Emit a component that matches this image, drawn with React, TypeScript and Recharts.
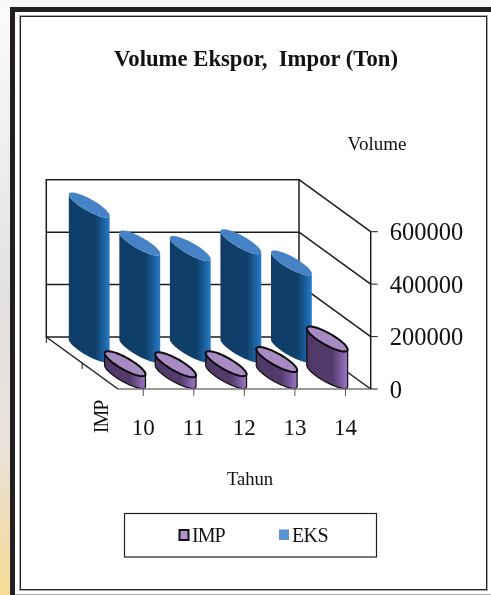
import { BarChart, Bar, XAxis, YAxis, usePlotArea } from 'recharts'

const YEARS = ['10', '11', '12', '13', '14']
const IMP_VALUES = [47000, 43000, 47000, 63000, 141000]
const EKS_VALUES = [553000, 408000, 387000, 413000, 332000]
const VOLUME_TICKS = [0, 200000, 400000, 600000]

const chartData = YEARS.map((year, i) => ({
  year,
  IMP: IMP_VALUES[i],
  EKS: EKS_VALUES[i],
}))

const FONT = '"Liberation Serif", serif'
const MAX_VOLUME = 600000

// how far the back wall sits behind the front plane, in px
const DEPTH_X = -71.7
const DEPTH_Y = -52
const DISC_V_X = -17.2
const DISC_V_Y = -12.5

const ellipsePoint = (cx: number, cy: number, ux: number, t: number) => [
  cx + Math.cos(t) * ux + Math.sin(t) * DISC_V_X,
  cy + Math.sin(t) * DISC_V_Y,
]

const toPath = (points: number[][]) =>
  points.map((p, i) => `${i ? 'L' : 'M'}${p[0].toFixed(2)} ${p[1].toFixed(2)}`).join(' ') + ' Z'

function cylinderShape(depth: number, gradient: string, top: string, stroke: string, strokeWidth: number) {
  return function Cylinder(props: any) {
    const { x, y, width, height } = props
    const ux = width / 2
    const cx = x + ux + depth * DEPTH_X
    const topY = y + depth * DEPTH_Y
    const floorY = y + height + depth * DEPTH_Y

    // tangent angle of the disc silhouette (right-most point)
    const t0 = Math.atan2(DISC_V_X, ux)
    const steps = 32
    const body: number[][] = []
    for (let i = 0; i <= steps; i++) {
      body.push(ellipsePoint(cx, topY, ux, t0 + Math.PI + (i / steps) * Math.PI))
    }
    for (let i = 0; i <= steps; i++) {
      body.push(ellipsePoint(cx, floorY, ux, t0 - (i / steps) * Math.PI))
    }
    const disc: number[][] = []
    for (let i = 0; i < steps * 2; i++) {
      disc.push(ellipsePoint(cx, topY, ux, (i / steps) * Math.PI))
    }

    return (
      <g>
        <path d={toPath(body)} fill={`url(#${gradient})`} stroke={stroke} strokeWidth={strokeWidth * 0.6} />
        <path d={toPath(disc)} fill={top} stroke={stroke} strokeWidth={strokeWidth} />
      </g>
    )
  }
}

function Walls() {
  const plot = usePlotArea()
  if (!plot) return null
  const { x, y, width, height } = plot
  const front = (v: number) => y + height * (1 - v / MAX_VOLUME)
  const right = x + width
  const wall = '#1c1c1c'

  return (
    <g>
      <defs>
        <linearGradient id="eksBody" x1="0" y1="0" x2="1" y2="0">
          <stop offset="0" stopColor="#0f3d68" />
          <stop offset="0.65" stopColor="#103f6b" />
          <stop offset="0.88" stopColor="#1d66a8" />
          <stop offset="1" stopColor="#2b7cc6" />
        </linearGradient>
        <linearGradient id="impBody" x1="0" y1="0" x2="1" y2="0">
          <stop offset="0" stopColor="#4f3867" />
          <stop offset="0.62" stopColor="#533b6c" />
          <stop offset="0.88" stopColor="#8763ab" />
          <stop offset="1" stopColor="#9d78c2" />
        </linearGradient>
      </defs>
      <rect x={x + DEPTH_X} y={front(MAX_VOLUME) + DEPTH_Y} width={width} height={height} fill="#fff" stroke={wall} strokeWidth={1.5} />
      {VOLUME_TICKS.map((v) => (
        <g key={v}>
          {v > 0 && v < MAX_VOLUME && (
            <line x1={x + DEPTH_X} x2={right + DEPTH_X} y1={front(v) + DEPTH_Y} y2={front(v) + DEPTH_Y} stroke={wall} strokeWidth={1.5} />
          )}
          <line x1={right + DEPTH_X} x2={right} y1={front(v) + DEPTH_Y} y2={front(v)} stroke={wall} strokeWidth={1.5} />
        </g>
      ))}
      <line x1={x + DEPTH_X} x2={x} y1={front(0) + DEPTH_Y} y2={front(0)} stroke={wall} strokeWidth={1.5} />
      <line x1={x + DEPTH_X} x2={x + DEPTH_X} y1={front(0) + DEPTH_Y} y2={front(0) + DEPTH_Y + 6} stroke={wall} />
      <line x1={x + DEPTH_X / 2} x2={x + DEPTH_X / 2} y1={front(0) + DEPTH_Y / 2} y2={front(0) + DEPTH_Y / 2 + 6} stroke={wall} />
    </g>
  )
}

function Labels() {
  return (
    <g fontFamily={FONT} fill="#111">
      <text x={256} y={66} textAnchor="middle" fontSize={22.7} fontWeight="bold" style={{ whiteSpace: 'pre' }}>
        {'Volume Ekspor,  Impor (Ton)'}
      </text>
      <text x={377} y={150} textAnchor="middle" fontSize={19}>Volume</text>
      <text x={250} y={485} textAnchor="middle" fontSize={18.6}>Tahun</text>
      <text transform="translate(108 417) rotate(-90)" textAnchor="middle" fontSize={20} letterSpacing={-1}>IMP</text>

      <rect x={124.5} y={513.5} width={252} height={43.5} fill="#fff" stroke="#222" strokeWidth={1.2} />
      <rect x={179.5} y={530} width={9} height={10} fill="#b394c8" stroke="#111" strokeWidth={2} />
      <text x={192} y={542} fontSize={20} letterSpacing={-1}>IMP</text>
      <rect x={279} y={529.5} width={10} height={10.5} fill="#5593d1" />
      <text x={292} y={542} fontSize={20} letterSpacing={-0.6}>EKS</text>
    </g>
  )
}

export default function App() {
  return (
    <div style={{ position: 'fixed', left: 0, top: 0, width: 491, height: 595, overflow: 'hidden', background: '#fff', filter: 'blur(0.4px)' }}>
      <div
        style={{
          position: 'absolute', left: 0, top: 0, width: 11, height: 595,
          background: 'linear-gradient(180deg, #fbfbfa 0%, #f0efed 25%, #e3e0e0 50%, #ebe2da 75%, #f0dcb0 90%, #f8dc96 100%)',
        }}
      />
      <div style={{ position: 'absolute', left: 0, top: 0, width: 491, height: 7, background: '#f8f8f7' }} />
      <div style={{ position: 'absolute', left: 10, top: 7, width: 481, height: 5, background: '#231f20' }} />
      <div style={{ position: 'absolute', left: 10, top: 7, width: 5, height: 588, background: '#231f20' }} />
      <div style={{ position: 'absolute', left: 15, top: 594, width: 476, height: 1, background: '#aaa' }} />
      <div
        style={{
          position: 'absolute', left: 19.5, top: 15.5, width: 467, height: 574.5, boxSizing: 'border-box',
          border: '1.5px solid #222', outline: '1px solid #aaa',
        }}
      />
      <div style={{ position: 'absolute', left: 0, top: 0 }}>
        <BarChart
          width={491}
          height={595}
          data={chartData}
          barSize={22}
          barGap={-22}
          margin={{ top: 231.7, right: 20.3, bottom: 146, left: 118 }}
          style={{ background: 'transparent' }}
        >
          <Walls />
          <XAxis
            dataKey="year"
            height={60}
            axisLine={{ stroke: '#777', strokeWidth: 1.5 }}
            tickLine={{ stroke: '#555' }}
            tickSize={7}
            tickMargin={23}
            tick={{ fontFamily: FONT, fontSize: 23, fill: '#111' }}
          />
          <YAxis
            orientation="right"
            width={100}
            domain={[0, MAX_VOLUME]}
            ticks={VOLUME_TICKS}
            axisLine={{ stroke: '#1c1c1c', strokeWidth: 1.5 }}
            tickLine={{ stroke: '#1c1c1c' }}
            tickSize={7}
            tickMargin={12}
            tick={{ fontFamily: FONT, fontSize: 24.5, fill: '#111' }}
          />
          <Bar dataKey="EKS" fill="#4a86c8" isAnimationActive={false} shape={cylinderShape(0.75, 'eksBody', '#4583c6', 'none', 0)} />
          <Bar dataKey="IMP" fill="#a98bc4" isAnimationActive={false} shape={cylinderShape(0.25, 'impBody', '#a98bc4', '#0b0b0b', 2)} />
          <Labels />
        </BarChart>
      </div>
    </div>
  )
}
